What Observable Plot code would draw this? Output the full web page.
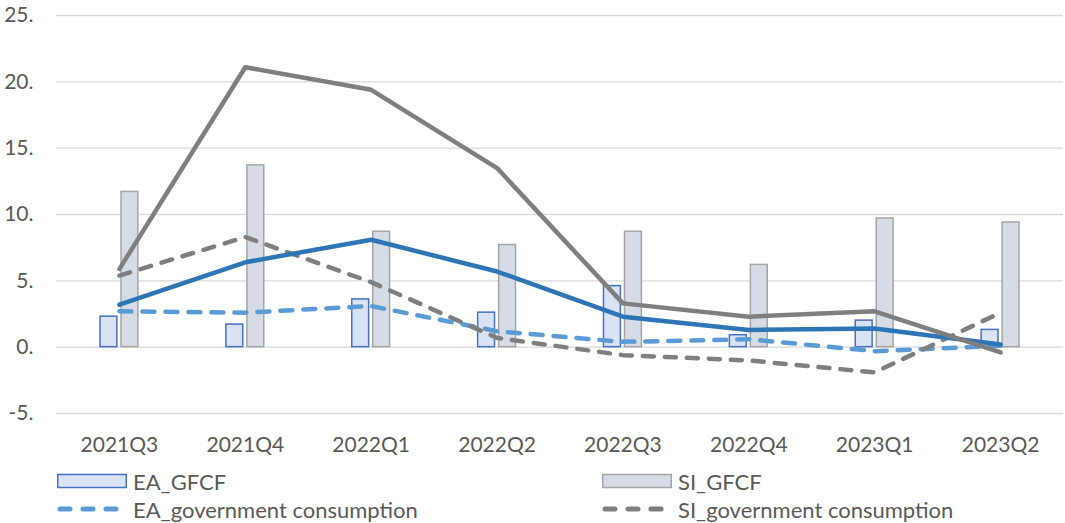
<!DOCTYPE html>
<html>
<head>
<meta charset="utf-8">
<script src="https://cdn.jsdelivr.net/npm/d3@7"></script>
<script src="https://cdn.jsdelivr.net/npm/@observablehq/plot@0.6"></script>
<style>
  html, body { margin: 0; padding: 0; background: #fff; }
  body { width: 1065px; height: 523px; overflow: hidden; font-family: Lato, "Open Sans", sans-serif; color: #595959; }
  #legend { position: relative; height: 63px; font-size: 22px; }
  .item { position: absolute; display: flex; align-items: center; height: 28px; white-space: nowrap; }
  .item svg { margin-right: 6px; }
</style>
</head>
<body>
<div id="chart"></div>
<div id="legend"></div>
<script>
const categories = ["2021Q3","2021Q4","2022Q1","2022Q2","2022Q3","2022Q4","2023Q1","2023Q2"];
const eaGFCF  = [2.3, 1.7, 3.6, 2.6, 4.6, 0.9, 2.0, 1.3];
const siGFCF  = [11.7, 13.7, 8.7, 7.7, 8.7, 6.2, 9.7, 9.4];
const eaGov   = [2.7, 2.6, 3.1, 1.2, 0.4, 0.6, -0.3, 0.1];
const siGov   = [5.4, 8.3, 4.9, 0.7, -0.6, -1.0, -1.9, 2.6];
const eaTotal = [3.2, 6.4, 8.1, 5.7, 2.3, 1.3, 1.4, 0.2];
const siTotal = [5.9, 21.1, 19.4, 13.5, 3.3, 2.3, 2.7, -0.4];
const yTicks  = [-5, 0, 5, 10, 15, 20, 25];

const legendItems = [
  {label: "EA_GFCF", kind: "bar", fill: "#dae3f3", stroke: "#4472c4"},
  {label: "SI_GFCF", kind: "bar", fill: "#d6dce5", stroke: "#a5a5a5"},
  {label: "EA_government consumption", kind: "dash", stroke: "#5b9bd5"},
  {label: "SI_government consumption", kind: "dash", stroke: "#7f7f7f"}
];

const chart = Plot.plot({
  width: 1065,
  height: 460,
  marginLeft: 56,
  marginRight: 2,
  marginTop: 15,
  marginBottom: 47,
  style: {fontFamily: "Lato, 'Open Sans', sans-serif", fontSize: "21px", color: "#595959", background: "white"},
  x: {domain: categories, padding: 0, round: false, tickSize: 0, tickPadding: 24, label: null},
  y: {domain: [-5, 25], ticks: yTicks, tickFormat: d => `${d}.`, tickSize: 0, tickPadding: 23, label: null},
  marks: [
    Plot.ruleY(yTicks, {stroke: "#d9d9d9", strokeWidth: 1.4}),
    Plot.barY(eaGFCF, {x: categories, y: d => d, fill: "#dae3f3", stroke: "#4472c4", strokeWidth: 1.5, insetLeft: 44, insetRight: 65}),
    Plot.barY(siGFCF, {x: categories, y: d => d, fill: "#d6dce5", stroke: "#a5a5a5", strokeWidth: 1.5, insetLeft: 65, insetRight: 44}),
    Plot.lineY(eaGov, {x: categories, y: d => d, stroke: "#5b9bd5", strokeWidth: 4.5, strokeDasharray: "12,11", strokeLinecap: "round", strokeLinejoin: "round"}),
    Plot.lineY(siGov, {x: categories, y: d => d, stroke: "#7f7f7f", strokeWidth: 4.5, strokeDasharray: "11,11", strokeLinecap: "round", strokeLinejoin: "round"}),
    Plot.lineY(eaTotal, {x: categories, y: d => d, stroke: "#2e75b6", strokeWidth: 4.5, strokeLinejoin: "round"}),
    Plot.lineY(siTotal, {x: categories, y: d => d, stroke: "#7f7f7f", strokeWidth: 4.5, strokeLinejoin: "round"})
  ]
});
document.getElementById("chart").appendChild(chart);

// Legend (HTML below the SVG)
const legend = d3.select("#legend");
const pos = [{left: 57, top: 7}, {left: 602, top: 7}, {left: 57, top: 35}, {left: 602, top: 35}];
legendItems.forEach((it, i) => {
  const div = legend.append("div").attr("class", "item")
    .style("left", pos[i].left + "px").style("top", pos[i].top + "px");
  const svg = div.append("svg").attr("width", 70).attr("height", 16);
  if (it.kind === "bar") {
    svg.append("rect").attr("x", 0.75).attr("y", 1.5).attr("width", 68.5).attr("height", 13)
      .attr("fill", it.fill).attr("stroke", it.stroke).attr("stroke-width", 1.5);
  } else {
    svg.append("line").attr("x1", 3).attr("x2", 67).attr("y1", 8).attr("y2", 8)
      .attr("stroke", it.stroke).attr("stroke-width", 5).attr("stroke-linecap", "round")
      .attr("stroke-dasharray", "10,13");
  }
  div.append("span").text(it.label);
});
</script>
</body>
</html>
